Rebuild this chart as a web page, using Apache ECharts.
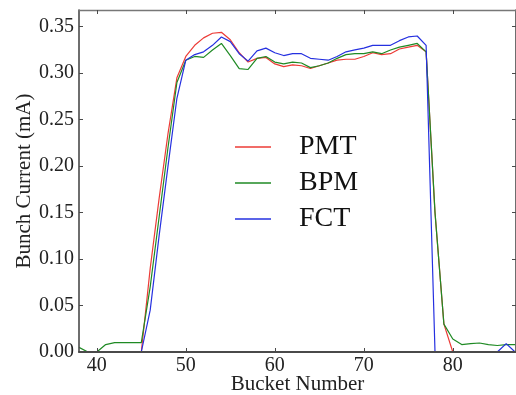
<!DOCTYPE html>
<html>
<head>
<meta charset="utf-8">
<script src="https://cdn.jsdelivr.net/npm/echarts@6/dist/echarts.min.js"></script>
<style>
html,body{margin:0;padding:0;background:#fff;}
#c{width:516px;height:395px;}
</style>
</head>
<body>
<div id="c"></div>
<script>
var buckets = [38,39,40,41,42,43,44,45,46,47,48,49,50,51,52,53,54,55,56,57,58,59,60,61,62,63,64,65,66,67,68,69,70,71,72,73,74,75,76,77,78,79,80,81,82,83,84,85,86,87];
var pmt = [0,0,0,0,0,0,0,0,0.09,0.165,0.235,0.295,0.318,0.330,0.338,0.343,0.344,0.336,0.322,0.312,0.316,0.317,0.310,0.307,0.309,0.308,0.305,0.308,0.311,0.314,0.315,0.315,0.318,0.322,0.320,0.321,0.326,0.328,0.330,0.323,0.15,0.03,0,0,0,0,0,0,0,0];
var bpm = [0.005,0,0,0.008,0.010,0.010,0.010,0.010,0.07,0.145,0.22,0.29,0.314,0.318,0.317,0.325,0.332,0.319,0.305,0.304,0.316,0.318,0.312,0.310,0.312,0.311,0.306,0.308,0.311,0.316,0.320,0.321,0.321,0.323,0.321,0.325,0.328,0.330,0.332,0.323,0.15,0.03,0.014,0.008,0.009,0.0097,0.008,0.007,0.008,0.008];
var fct = [0,0,0,0,0,0,0,0,0.045,0.125,0.20,0.273,0.314,0.320,0.323,0.330,0.339,0.334,0.321,0.313,0.324,0.327,0.322,0.319,0.321,0.321,0.316,0.315,0.314,0.318,0.323,0.325,0.327,0.330,0.330,0.330,0.335,0.339,0.340,0.330,0,0,0,0,0,0,0,0,0.009,0];
var xTicks = [40,50,60,70,80];
var yTicks = [0,0.05,0.10,0.15,0.20,0.25,0.30,0.35];
var seriesNames = ['PMT','BPM','FCT'];
var seriesColors = ['#ec3b36','#1f8a24','#2530e0'];

function pairs(vals){ return buckets.map(function(b,i){ return [b, vals[i]]; }); }

var FONT = 'Liberation Serif';
var axisCol = '#4a4a4a';
var chart = echarts.init(document.getElementById('c'), null, {renderer:'canvas'});
var xCommon = {
  type:'value', min:38, max:87.1,
  axisLine:{show:true, onZero:false, lineStyle:{color:axisCol, width:2}},
  axisTick:{show:true, inside:true, length:4, customValues:xTicks, lineStyle:{color:axisCol}},
  splitLine:{show:false}, z:5
};
var yCommon = {
  type:'value', min:0, max:0.368,
  axisLine:{show:true, onZero:false, lineStyle:{color:axisCol, width:1.6}},
  axisTick:{show:true, inside:true, length:4, customValues:yTicks, lineStyle:{color:axisCol}},
  splitLine:{show:false}, z:5
};
var option = {
  animation:false,
  grid:{left:79, top:10, right:0, bottom:43, containLabel:false, outerBoundsMode:'none'},
  legend:{
    orient:'vertical', left:230, top:128, itemWidth:36, itemHeight:14, itemGap:8,
    icon:'path://M0,0 L36,0 L36,1.3 L0,1.3 Z',
    textStyle:{fontFamily:FONT, fontSize:28, color:'#111', padding:[0,0,0,23], lineHeight:28},
    data:seriesNames
  },
  xAxis:[
    Object.assign({}, xCommon, {
      position:'bottom',
      axisLabel:{show:true, customValues:xTicks, margin:4, fontFamily:FONT, fontSize:20, color:'#222'},
      name:'Bucket Number', nameLocation:'middle', nameGap:22, nameMoveOverlap:false,
      nameTextStyle:{fontFamily:FONT, fontSize:21, color:'#222'}
    }),
    Object.assign({}, xCommon, {position:'top', axisLabel:{show:false}, axisLine:{show:true, onZero:false, lineStyle:{color:'#777', width:1.4}}})
  ],
  yAxis:[
    Object.assign({}, yCommon, {
      position:'left',
      axisLabel:{show:true, customValues:yTicks, margin:5, fontFamily:FONT, fontSize:20, color:'#222',
        formatter:function(v){ return v.toFixed(2); }},
      name:'Bunch Current (mA)', nameLocation:'middle', nameGap:44, nameMoveOverlap:false,
      nameTextStyle:{fontFamily:FONT, fontSize:21, color:'#222'}
    }),
    Object.assign({}, yCommon, {position:'right', axisLabel:{show:false}})
  ],
  series: seriesNames.map(function(n, i){
    var vals = [pmt, bpm, fct][i];
    return {
      name:n, type:'line', data:pairs(vals), symbol:'none', showSymbol:false,
      xAxisIndex:0, yAxisIndex:0, z:1,
      lineStyle:{color:seriesColors[i], width:1.2},
      itemStyle:{color:seriesColors[i]}
    };
  })
};
chart.setOption(option);
</script>
</body>
</html>
